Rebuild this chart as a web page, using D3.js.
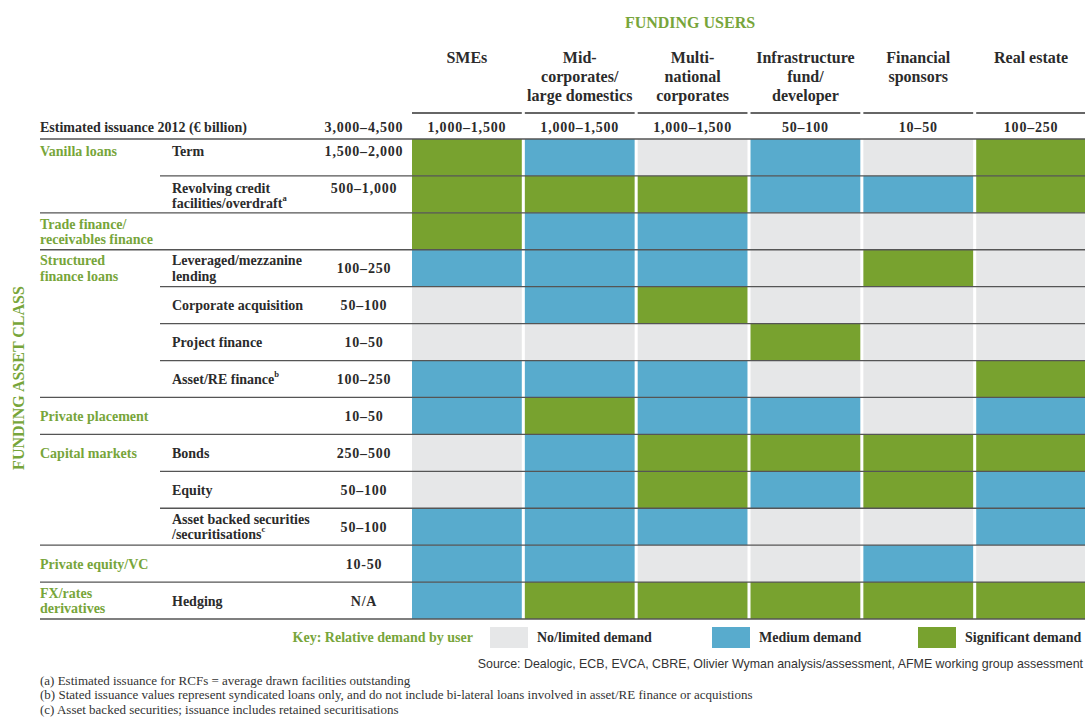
<!DOCTYPE html>
<html>
<head>
<meta charset="utf-8">
<style>
body { margin: 0; background: #fff; }
svg text { font-family: "Liberation Serif", "DejaVu Serif", serif; }
.b { font-weight: bold; fill: #2b2b2b; }
.g { font-weight: bold; fill: #77a53a; }
.num { letter-spacing: 0.8px; }
.src { font-family: "Liberation Sans Narrow", "Liberation Sans", sans-serif; fill: #333; }
.fn { fill: #333; }
</style>
</head>
<body>
<svg width="1085" height="718"></svg>
<script src="https://cdn.jsdelivr.net/npm/d3@7"></script>
<script>
// ---- data ----
var users = ["SMEs", "Mid-corporates", "Multinationals", "Infrastructure", "Financial sponsors", "Real estate"];
var userLabels = [["SMEs"], ["Mid-", "corporates/", "large domestics"], ["Multi-", "national", "corporates"],
                  ["Infrastructure", "fund/", "developer"], ["Financial", "sponsors"], ["Real estate"]];
var userIssuance = ["1,000–1,500", "1,000–1,500", "1,000–1,500", "50–100", "10–50", "100–250"];

var groups = [["Vanilla loans"], ["Trade finance/", "receivables finance"], ["Structured", "finance loans"],
              ["Private placement"], ["Capital markets"], ["Private equity/VC"], ["FX/rates", "derivatives"]];
var rowGroup = [0, 0, 1, 2, 2, 2, 2, 3, 4, 4, 4, 5, 6];
var rowLabels = [["Term"], ["Revolving credit", "facilities/overdraft|a"], [], ["Leveraged/mezzanine", "lending"],
                 ["Corporate acquisition"], ["Project finance"], ["Asset/RE finance|b"], [], ["Bonds"], ["Equity"],
                 ["Asset backed securities", "/securitisations|c"], [], ["Hedging"]];
var rowIssuance = ["1,500–2,000", "500–1,000", "", "100–250", "50–100", "10–50", "100–250", "10–50",
                   "250–500", "50–100", "50–100", "10-50", "N/A"];
var totalIssuance = "3,000–4,500";

// 0 = no/limited, 1 = medium, 2 = significant
var demand = [
  [2, 1, 0, 1, 0, 2],
  [2, 2, 2, 1, 1, 2],
  [2, 1, 1, 0, 0, 0],
  [1, 1, 1, 0, 2, 0],
  [0, 1, 2, 0, 0, 0],
  [0, 0, 0, 2, 0, 0],
  [1, 1, 1, 0, 0, 2],
  [1, 2, 1, 1, 0, 1],
  [0, 1, 2, 2, 2, 2],
  [0, 1, 2, 1, 2, 1],
  [1, 1, 1, 0, 0, 1],
  [1, 1, 0, 0, 1, 0],
  [1, 2, 2, 2, 2, 2]
];
var levels = ["No/limited demand", "Medium demand", "Significant demand"];
var sources = "Source: Dealogic, ECB, EVCA, CBRE, Olivier Wyman analysis/assessment, AFME working group assessment";
var notes = ["(a) Estimated issuance for RCFs = average drawn facilities outstanding",
             "(b) Stated issuance values represent syndicated loans only, and do not include bi-lateral loans involved in asset/RE finance or acquistions",
             "(c) Asset backed securities; issuance includes retained securitisations"];

// ---- layout ----
var svg = d3.select("svg");
var left = 40, valX = 364, subX = 172, gridTop = 139, gridBottom = 619;

var x = d3.scaleBand().domain(users).range([412, 1086]).paddingInner(0.027);
var y = d3.scaleBand().domain(d3.range(rowGroup.length)).range([gridTop, gridBottom]);
var color = d3.scaleOrdinal().domain([0, 1, 2]).range(["#e6e7e8", "#58abcd", "#78a22f"]);

// titles
svg.append("text").attr("class", "g").attr("x", 690).attr("y", 22)
  .attr("text-anchor", "middle").attr("dominant-baseline", "central").attr("font-size", 16)
  .text("FUNDING USERS");
svg.append("text").attr("class", "g").attr("font-size", 16)
  .attr("text-anchor", "middle").attr("dominant-baseline", "central")
  .attr("transform", "translate(18,378) rotate(-90)")
  .text("FUNDING ASSET CLASS");

// column headers
users.forEach(function(u, i) {
  var cx = x(u) + x.bandwidth() / 2;
  userLabels[i].forEach(function(l, j) {
    svg.append("text").attr("class", "b").attr("font-size", 16)
      .attr("x", cx).attr("y", 57 + j * 19)
      .attr("text-anchor", "middle").attr("dominant-baseline", "central").text(l);
  });
  svg.append("line").attr("x1", x(u)).attr("x2", x(u) + x.bandwidth())
    .attr("y1", 113).attr("y2", 113).attr("stroke", "#333").attr("stroke-width", 1.5);
  svg.append("text").attr("class", "b num").attr("font-size", 14)
    .attr("x", cx).attr("y", 127)
    .attr("text-anchor", "middle").attr("dominant-baseline", "central").text(userIssuance[i]);
});
svg.append("text").attr("class", "b").attr("font-size", 14).attr("x", left).attr("y", 127)
  .attr("dominant-baseline", "central").text("Estimated issuance 2012 (€ billion)");
svg.append("text").attr("class", "b num").attr("font-size", 14).attr("x", valX).attr("y", 127)
  .attr("text-anchor", "middle").attr("dominant-baseline", "central").text(totalIssuance);

// cells
var cells = [];
demand.forEach(function(r, ri) { r.forEach(function(v, ci) { cells.push({ r: ri, c: users[ci], v: v }); }); });
svg.append("g").selectAll("rect").data(cells).enter().append("rect")
  .attr("x", function(d) { return x(d.c); })
  .attr("y", function(d) { return y(d.r); })
  .attr("width", x.bandwidth())
  .attr("height", y.bandwidth())
  .attr("fill", function(d) { return color(d.v); });

// multi-line text helper, with "|x" as superscript
function lines(arr, cls, px, cy, anchor) {
  var lh = 15.5, y0 = cy - (arr.length - 1) * lh / 2;
  arr.forEach(function(l, j) {
    var parts = l.split("|");
    var t = svg.append("text").attr("class", cls).attr("font-size", 14)
      .attr("x", px).attr("y", y0 + j * lh)
      .attr("text-anchor", anchor || "start").attr("dominant-baseline", "central");
    t.append("tspan").text(parts[0]);
    if (parts[1]) t.append("tspan").attr("font-size", 8.5).attr("dy", -5).text(parts[1]);
  });
}

// row labels
rowGroup.forEach(function(g, ri) {
  var top = y(ri), cy = top + y.bandwidth() / 2;
  var topAligned = g === 0; // vanilla loans rows sit at the top of the row
  var first = ri === 0 || rowGroup[ri - 1] !== g;
  var lbl = rowLabels[ri];
  var ly = topAligned ? top + 12 + (lbl.length - 1) * 7.75 : cy;
  if (first) {
    var gl = groups[g];
    lines(gl, "g", left, topAligned ? top + 12 : cy);
  }
  if (lbl.length) lines(lbl, "b", subX, ly);
  if (rowIssuance[ri]) lines([rowIssuance[ri]], "b num", valX, topAligned ? top + 12 : cy, "middle");
});

// row rules
rowGroup.forEach(function(g, ri) {
  var last = ri === rowGroup.length - 1 || rowGroup[ri + 1] !== g;
  var yy = y(ri) + y.bandwidth();
  svg.append("line").attr("x1", last ? left : 160).attr("x2", 1085)
    .attr("y1", yy).attr("y2", yy).attr("stroke", "#555").attr("stroke-width", 1.3);
});
svg.append("line").attr("x1", left).attr("x2", 1085).attr("y1", gridTop).attr("y2", gridTop)
  .attr("stroke", "#555").attr("stroke-width", 1.3);

// key
svg.append("text").attr("class", "g").attr("font-size", 14).attr("x", 473).attr("y", 637)
  .attr("text-anchor", "end").attr("dominant-baseline", "central").text("Key: Relative demand by user");
var keyX = [490, 712, 918];
levels.forEach(function(l, i) {
  svg.append("rect").attr("x", keyX[i]).attr("y", 627).attr("width", 38).attr("height", 21)
    .attr("fill", color(i));
  svg.append("text").attr("class", "b").attr("font-size", 14).attr("x", keyX[i] + 47).attr("y", 637)
    .attr("dominant-baseline", "central").text(l);
});

// source and notes
svg.append("text").attr("class", "src").attr("font-size", 12.4).attr("x", 1083).attr("y", 664)
  .attr("text-anchor", "end").attr("dominant-baseline", "central").text(sources);
notes.forEach(function(n, i) {
  svg.append("text").attr("class", "fn").attr("font-size", 13).attr("x", left).attr("y", 680 + i * 14.8)
    .attr("dominant-baseline", "central").text(n);
});
</script>
</body>
</html>
